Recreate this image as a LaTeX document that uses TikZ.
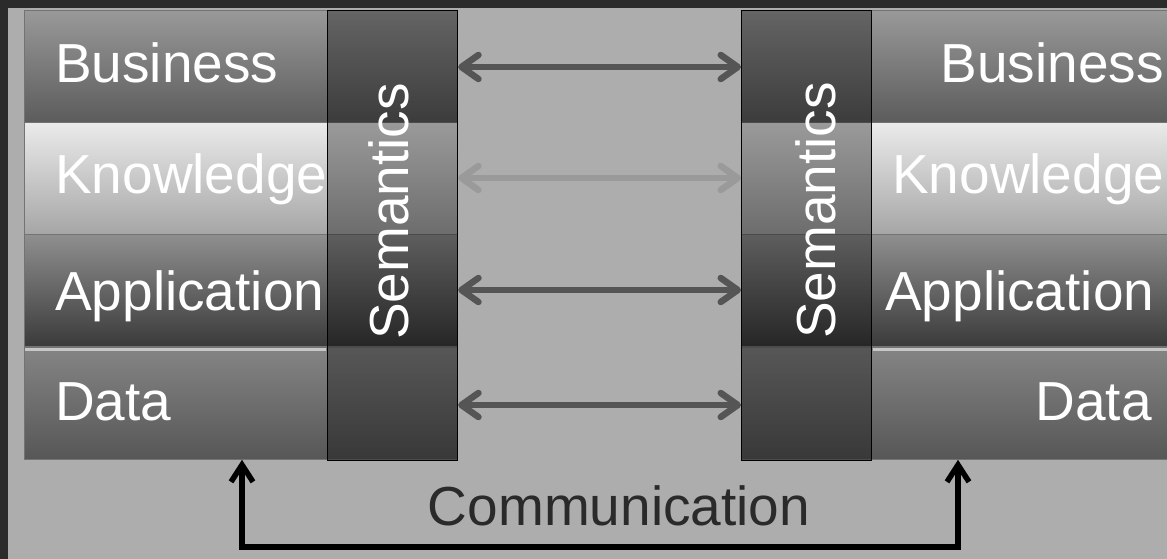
\documentclass[tikz,border=0pt]{standalone}
\usepackage{fontspec}
\setmainfont{Liberation Sans}
\usetikzlibrary{arrows.meta,calc}
\definecolor{bgray}{HTML}{ADADAD}
\definecolor{frame}{HTML}{2B2B2B}
\definecolor{arr}{HTML}{555555}
\definecolor{arrlight}{HTML}{9A9A9A}
\definecolor{ctext}{HTML}{2A2A2A}
\tikzset{
  layer/.style={draw=black!55, line width=0.8pt, inner sep=0pt, minimum height=112pt, anchor=north west},
  busi/.style={layer, top color=black!40, bottom color=black!64},
  know/.style={layer, top color=black!8, bottom color=black!35},
  appl/.style={layer, top color=black!44, bottom color=black!77},
  data/.style={layer, top color=black!48, bottom color=black!66},
  sem/.style={draw=black, line width=1.2pt, fill=black, fill opacity=0.34, text opacity=1, anchor=north west, inner sep=0pt, minimum width=130pt, minimum height=450pt},
  lab/.style={text=white, font=\fontsize{55}{60}\selectfont, inner sep=0pt},
  dbl/.style={line width=6.5pt, line cap=round, {Straight Barb[length=17pt,width=24pt,round]}-{Straight Barb[length=17pt,width=24pt,round]}},
  comm/.style={line width=5.5pt, black, {Straight Barb[length=17pt,width=22pt]}-{Straight Barb[length=17pt,width=22pt]}}
}
\begin{document}
\begin{tikzpicture}[x=1pt,y=-1pt]
\useasboundingbox (0,0) rectangle (1167,559);
\clip (0,0) rectangle (1167,559);
\fill[frame] (0,0) rectangle (1167,559);
\fill[bgray] (8,8) rectangle (1180,570);
% left stack
\node[busi, minimum width=433pt] (L1) at (24,10) {};
\node[know, minimum width=433pt] (L2) at (24,122) {};
\node[appl, minimum width=433pt] (L3) at (24,234) {};
\node[data, minimum width=433pt] (L4) at (24,347) {};
\fill[white, opacity=0.55] (25,348) rectangle (326,351);
% right stack
\node[busi, minimum width=440pt] (R1) at (741,10) {};
\node[know, minimum width=440pt] (R2) at (741,122) {};
\node[appl, minimum width=440pt] (R3) at (741,234) {};
\node[data, minimum width=440pt] (R4) at (741,347) {};
\fill[white, opacity=0.55] (873,348) rectangle (1167,351);
% semantics columns
\node[sem] (semL) at (327,10) {};
\node[sem] (semR) at (741,10) {};
\node[lab, rotate=90, anchor=base west] (semLt) at (408,340) {Semantics};
\node[lab, rotate=90, anchor=base west] (semRt) at (835,339) {Semantics};
% labels
\node[lab, anchor=base west] (tb1) at (55,83) {Business};
\node[lab, anchor=base west] (tk1) at (55,193) {Knowledge};
\node[lab, anchor=base west] (ta1) at (55,310) {Application};
\node[lab, anchor=base west] (td1) at (55,420) {Data};
\node[lab, anchor=base east] (tb2) at (1164,83) {Business};
\node[lab, anchor=base west] (tk2) at (892,193) {Knowledge};
\node[lab, anchor=base west] (ta2) at (885,310) {Application};
\node[lab, anchor=base east] (td2) at (1152,420) {Data};
% double arrows
\draw[dbl, arr] (semL.east |- 0,67) coordinate (a1) -- (semR.west |- 0,67) coordinate (b1);
\draw[dbl, arrlight] (semL.east |- 0,178) coordinate (a2) -- (semR.west |- 0,178) coordinate (b2);
\draw[dbl, arr] (semL.east |- 0,290) coordinate (a3) -- (semR.west |- 0,290) coordinate (b3);
\draw[dbl, arr] (semL.east |- 0,405) coordinate (a4) -- (semR.west |- 0,405) coordinate (b4);
% communication
\coordinate (cl) at (242,547);
\coordinate (cr) at (958,547);
\draw[comm, line join=miter] (cl |- L4.south) -- (cl) -- (cr) -- (cr |- R4.south);
\node[text=ctext, font=\fontsize{55}{60}\selectfont, inner sep=0pt, anchor=base] (comm) at (619,525) {Communication};
\end{tikzpicture}
\end{document}
